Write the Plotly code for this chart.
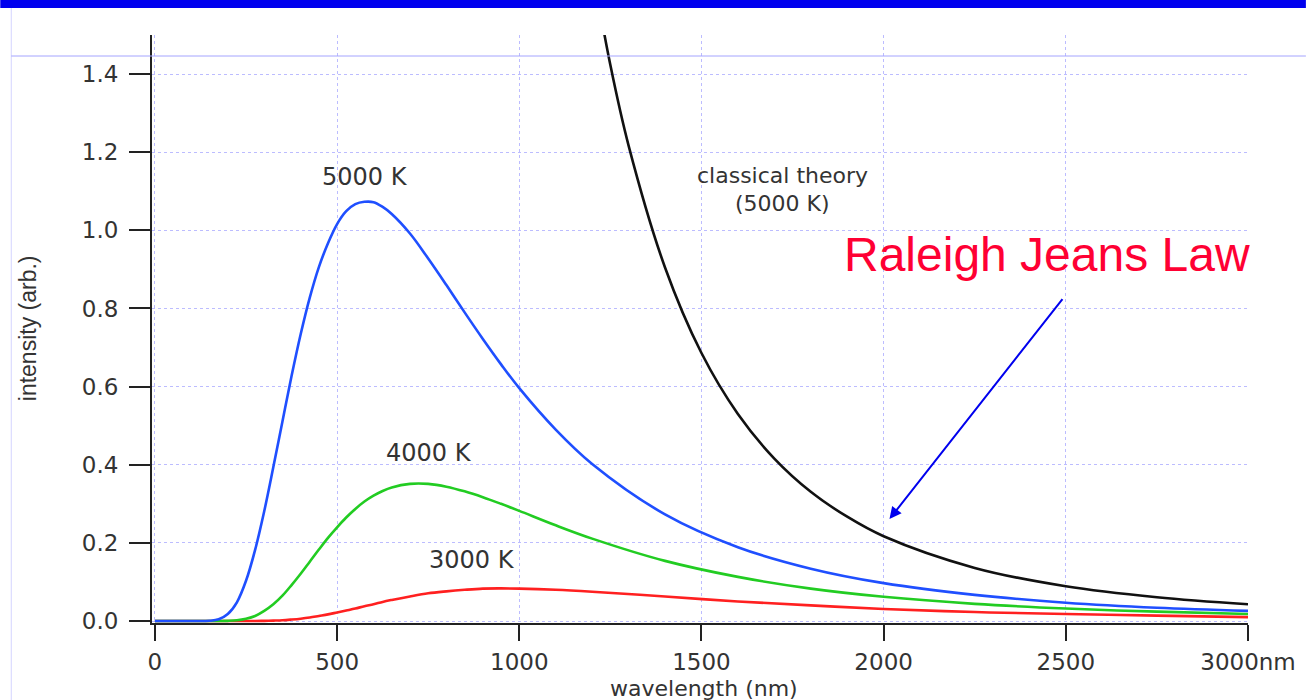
import plotly.graph_objects as go

# ---- data ----
wavelength_nm = [0, 100, 150, 175, 200, 225, 250, 275, 300, 325,
                 350, 375, 400, 425, 450, 475, 500, 525, 550, 575,
                 600, 625, 650, 700, 750, 800, 850, 900, 950, 1000,
                 1100, 1200, 1400, 1600, 1800, 2000, 2250, 2500, 2750, 3000]
intensity_5000K = [0, 0, 0.0006, 0.0044, 0.018, 0.048, 0.103, 0.182, 0.281, 0.394,
                   0.511, 0.627, 0.734, 0.828, 0.906, 0.967, 1.016, 1.049, 1.067, 1.073,
                   1.072, 1.060, 1.042, 0.992, 0.928, 0.860, 0.790, 0.722, 0.657, 0.596,
                   0.490, 0.402, 0.273, 0.189, 0.134, 0.097, 0.067, 0.047, 0.034, 0.026]
intensity_4000K = [0, 0, 0, 0, 0.0005, 0.002, 0.006, 0.013, 0.026, 0.043,
                   0.065, 0.092, 0.121, 0.152, 0.183, 0.213, 0.240, 0.265, 0.287, 0.306,
                   0.321, 0.333, 0.342, 0.351, 0.351, 0.344, 0.332, 0.317, 0.300, 0.282,
                   0.245, 0.211, 0.154, 0.113, 0.083, 0.062, 0.044, 0.032, 0.024, 0.018]
intensity_3000K = [0, 0, 0, 0, 0, 0, 0, 0, 0.0005, 0.0011,
                   0.002, 0.0038, 0.006, 0.009, 0.013, 0.017, 0.022, 0.027, 0.032, 0.038,
                   0.043, 0.049, 0.054, 0.063, 0.071, 0.076, 0.080, 0.083, 0.0835, 0.083,
                   0.080, 0.075, 0.063, 0.050, 0.040, 0.031, 0.023, 0.018, 0.014, 0.010]
classical_nm = [1200, 1250, 1300, 1400, 1500, 1600, 1700, 1800, 1900, 2000, 2250, 2500,
                2750, 3000]
classical_5000K = [1.676, 1.423, 1.217, 0.905, 0.686, 0.530, 0.416, 0.331, 0.267, 0.217,
                   0.136, 0.089, 0.061, 0.043]

x_ticks = [0, 500, 1000, 1500, 2000, 2500, 3000]
x_tick_labels = ["0", "500", "1000", "1500", "2000", "2500", "3000nm"]
y_ticks = [0.0, 0.2, 0.4, 0.6, 0.8, 1.0, 1.2, 1.4]
y_tick_labels = ["0.0", "0.2", "0.4", "0.6", "0.8", "1.0", "1.2", "1.4"]

# ---- layout geometry (pixels) ----
W, H = 1308, 700
L, R, T, B = 152, 1250, 35, 623
PW, PH = R - L, B - T


def px(x):
    return (x - L) / PW


def py(y):
    return (B - y) / PH


TXT = "#333333"
TICKFONT = dict(family="DejaVu Sans", size=23, color=TXT)

fig = go.Figure()
line_w = 2.6
fig.add_trace(go.Scatter(x=classical_nm, y=classical_5000K, mode="lines",
                         line=dict(color="#111111", width=line_w, shape="spline")))
fig.add_trace(go.Scatter(x=wavelength_nm, y=intensity_3000K, mode="lines",
                         line=dict(color="#ff2020", width=line_w, shape="spline")))
fig.add_trace(go.Scatter(x=wavelength_nm, y=intensity_4000K, mode="lines",
                         line=dict(color="#22cc22", width=line_w, shape="spline")))
fig.add_trace(go.Scatter(x=wavelength_nm, y=intensity_5000K, mode="lines",
                         line=dict(color="#1f4fff", width=line_w, shape="spline")))

grid = dict(showgrid=True, gridcolor="#bcbcff", griddash="dot", gridwidth=1)

fig.update_xaxes(range=[-8, 3000], tickvals=x_ticks, ticktext=x_tick_labels,
                 ticks="outside", ticklen=16, tickwidth=2, tickcolor="#222222",
                 showline=True, linecolor="#222222", linewidth=2, zeroline=False,
                 tickfont=TICKFONT, ticklabelstandoff=1, **grid)
fig.update_yaxes(range=[-0.005, 1.5], tickvals=y_ticks, ticktext=y_tick_labels,
                 ticks="outside", ticklen=21, tickwidth=2, tickcolor="#222222",
                 showline=True, linecolor="#222222", linewidth=2, zeroline=False,
                 tickfont=TICKFONT, ticklabelstandoff=6, **grid)

ann = []


def label(text, xp, yp, size=24, color=TXT, family="DejaVu Sans", **kw):
    ann.append(dict(text=text, x=px(xp), y=py(yp), xref="paper", yref="paper",
                    showarrow=False, font=dict(family=family, size=size, color=color),
                    xanchor="center", yanchor="middle", **kw))


label("5000 K", 365, 177)
label("4000 K", 430, 453)
label("3000 K", 473, 560)
label("classical theory", 784, 175.5, size=22)
label("(5000 K)", 784, 203, size=22)
label("Raleigh Jeans Law", 1049, 255, size=48, color="#ff0033",
      family="Liberation Sans")
label("intensity (arb.)", 28, 328, size=23, family="Liberation Sans", textangle=-90)
label("wavelength (nm)", 705, 688, size=22)

# arrow from label to the classical curve
ann.append(dict(x=2016, y=0.261, ax=2494, ay=0.828, xref="x", yref="y",
                axref="x", ayref="y", text="", showarrow=True, arrowhead=2,
                arrowsize=1.2, arrowwidth=2, arrowcolor="#0000ee"))

shapes = [
    dict(type="rect", xref="paper", yref="paper", x0=px(0), x1=px(W), y0=py(8),
         y1=py(0), fillcolor="#0000ee", line=dict(width=0), layer="above"),
    dict(type="line", xref="paper", yref="paper", x0=px(11), x1=px(11), y0=py(8),
         y1=py(H), line=dict(color="#d4d4ff", width=1)),
    dict(type="line", xref="paper", yref="paper", x0=px(11), x1=px(W), y0=py(56),
         y1=py(56), line=dict(color="#a4a4ff", width=1)),
]

fig.update_layout(width=W, height=H, showlegend=False,
                  margin=dict(l=L, r=W - R, t=T, b=H - B, pad=0),
                  paper_bgcolor="white", plot_bgcolor="white",
                  annotations=ann, shapes=shapes, hovermode=False)

fig.write_html("out.html", config={"displayModeBar": False},
               post_script="document.body.style.margin='0px';"
                           "document.body.style.overflow='hidden';")
